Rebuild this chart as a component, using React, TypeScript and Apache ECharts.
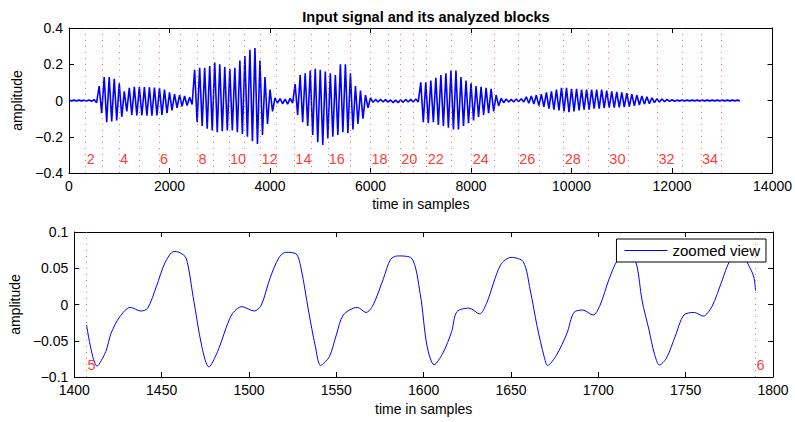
import React, { useEffect, useRef } from "react";
import * as echarts from "echarts";

const titleText = "Input signal and its analyzed blocks";
const xAxisTitle = "time in samples";
const yAxisTitle = "amplitude";
const zoomLegend = "zoomed view";

// Overview signal: upper / lower envelope read every 100 samples
const envelopeStep = 100;
const upperEnvelope = [
  0.002, 0.002, 0.002, 0.002, 0.003, 0.005, 0.08, 0.13, 0.13, 0.12,
  0.095, 0.05, 0.07, 0.075, 0.075, 0.074, 0.073, 0.072, 0.07, 0.06,
  0.045, 0.035, 0.03, 0.025, 0.018, 0.17, 0.18, 0.18, 0.19, 0.21,
  0.2, 0.185, 0.175, 0.18, 0.22, 0.245, 0.28, 0.29, 0.22, 0.13,
  0.06, 0.015, 0.01, 0.008, 0.012, 0.09, 0.14, 0.15, 0.165, 0.175,
  0.17, 0.16, 0.15, 0.14, 0.2, 0.2, 0.15, 0.08, 0.055, 0.03,
  0.015, 0.006, 0.006, 0.005, 0.003, 0.002, 0.004, 0.006, 0.006, 0.008,
  0.1, 0.1, 0.11, 0.125, 0.14, 0.15, 0.165, 0.165, 0.13, 0.11,
  0.095, 0.08, 0.075, 0.07, 0.065, 0.03, 0.012, 0.008, 0.006, 0.008,
  0.01, 0.02, 0.025, 0.03, 0.035, 0.045, 0.05, 0.06, 0.07, 0.07,
  0.065, 0.065, 0.06, 0.06, 0.06, 0.06, 0.06, 0.055, 0.05, 0.048,
  0.045, 0.04, 0.035, 0.03, 0.025, 0.02, 0.015, 0.01, 0.008, 0.006,
  0.004, 0.002, 0.002, 0.002, 0.002, 0.002, 0.002, 0.002, 0.002, 0.002,
  0.002, 0.002, 0.002, 0.002,
];
const lowerEnvelope = [
  -0.002, -0.002, -0.002, -0.003, -0.004, -0.012, -0.07, -0.12, -0.115, -0.11,
  -0.09, -0.06, -0.08, -0.083, -0.083, -0.084, -0.084, -0.083, -0.08, -0.07,
  -0.055, -0.04, -0.032, -0.028, -0.022, -0.12, -0.14, -0.155, -0.165, -0.175,
  -0.17, -0.165, -0.165, -0.175, -0.185, -0.2, -0.225, -0.24, -0.19, -0.13,
  -0.06, -0.015, -0.018, -0.02, -0.015, -0.08, -0.12, -0.14, -0.19, -0.23,
  -0.245, -0.21, -0.2, -0.19, -0.175, -0.18, -0.16, -0.13, -0.1, -0.04,
  -0.01, -0.008, -0.008, -0.009, -0.012, -0.012, -0.01, -0.008, -0.008, -0.008,
  -0.12, -0.125, -0.12, -0.135, -0.14, -0.15, -0.16, -0.16, -0.14, -0.125,
  -0.11, -0.09, -0.08, -0.07, -0.06, -0.03, -0.012, -0.008, -0.008, -0.006,
  -0.008, -0.015, -0.02, -0.028, -0.035, -0.045, -0.05, -0.055, -0.06, -0.065,
  -0.06, -0.055, -0.05, -0.05, -0.045, -0.045, -0.042, -0.04, -0.04, -0.038,
  -0.036, -0.033, -0.03, -0.025, -0.02, -0.018, -0.012, -0.008, -0.006, -0.005,
  -0.004, -0.002, -0.002, -0.002, -0.002, -0.002, -0.002, -0.002, -0.002, -0.002,
  -0.002, -0.002, -0.002, -0.002,
];

// start sample of each analysed block (block 1 .. 35)
const blockStarts = [
  0, 332, 660, 995, 1407, 1790, 2209, 2558, 2870, 3184,
  3490, 3810, 4133, 4484, 4820, 5150, 5590, 6000, 6355, 6590,
  6860, 7118, 7600, 8013, 8460, 8941, 9360, 9845, 10335, 10733,
  11135, 11710, 12210, 12575, 12989,
];

// zoomed view samples
const zoomSamples = [
  1407, 1413, 1418, 1421, 1426, 1432, 1438, 1442, 1447, 1452,
  1457, 1460, 1464, 1468, 1473, 1477, 1482, 1490, 1496, 1503,
  1507, 1512, 1517, 1521, 1527, 1530, 1534, 1538, 1541, 1546,
  1550, 1554, 1562, 1567, 1571, 1577, 1581, 1585, 1593, 1598,
  1602, 1606, 1611, 1616, 1619, 1626, 1632, 1636, 1644, 1650,
  1657, 1661, 1665, 1669, 1671, 1676, 1682, 1686, 1691, 1697,
  1701, 1706, 1711, 1716, 1719, 1722, 1725, 1729, 1732, 1735,
  1739, 1744, 1749, 1755, 1760, 1765, 1771, 1775, 1779, 1783,
  1786, 1789, 1790,
];
const zoomAmplitudes = [
  -0.028, -0.085, -0.065, -0.04, -0.017, -0.004, -0.009, -0.005, 0.025, 0.058,
  0.073, 0.072, 0.064, 0.011, -0.058, -0.086, -0.065, -0.0145, -0.003, -0.009,
  -0.001, 0.036, 0.064, 0.072, 0.0697, 0.0476, -0.0076, -0.058, -0.084, -0.072,
  -0.042, -0.0145, -0.004, -0.011, -0.001, 0.036, 0.062, 0.067, 0.064, 0.015,
  -0.058, -0.083, -0.067, -0.0375, -0.01, -0.005, -0.013, 0.0016, 0.0545, 0.065,
  0.059, 0.02, -0.0306, -0.072, -0.084, -0.07, -0.04, -0.011, -0.0076, -0.0145,
  -0.001, 0.034, 0.061, 0.069, 0.066, 0.0545, 0.006, -0.035, -0.067, -0.0835,
  -0.074, -0.044, -0.0145, -0.011, -0.016, -0.003, 0.034, 0.059, 0.068, 0.066,
  0.0545, 0.038, 0.019,
];

const overviewXTicks = [0, 2000, 4000, 6000, 8000, 10000, 12000, 14000];
const overviewYTicks = [-0.4, -0.2, 0, 0.2, 0.4];
const zoomXTicks = [1400, 1450, 1500, 1550, 1600, 1650, 1700, 1750, 1800];
const zoomYTicks = [-0.1, -0.05, 0, 0.05, 0.1];

const FONT = "Liberation Sans, Arial, Helvetica, sans-serif";

function fmtY(v: number): string {
  if (Math.abs(v) < 1e-9) return "0";
  const s = String(Number(Math.abs(v).toFixed(3)));
  return (v < 0 ? "\u2212" : "") + s;
}

function axisPair(ticks: number[], gridIndex: number, isX: boolean, name: string, nameGap: number) {
  const min = ticks[0];
  const max = ticks[ticks.length - 1];
  const interval = ticks[1] - ticks[0];
  const common = {
    type: "value",
    gridIndex,
    min,
    max,
    interval,
    splitLine: { show: false },
    axisLine: { show: true, onZero: false, lineStyle: { color: "#000", width: 1 } },
    axisTick: { show: true, inside: true, length: 5, lineStyle: { color: "#000" } },
  };
  const main: any = {
    ...common,
    position: isX ? "bottom" : "left",
    axisLabel: {
      show: true,
      color: "#000",
      fontSize: 14,
      fontFamily: FONT,
      margin: 6,
      formatter: isX ? (v: number) => String(v) : fmtY,
    },
    name,
    nameLocation: "middle",
    nameGap,
    nameTextStyle: { color: "#000", fontSize: 14, fontFamily: FONT, verticalAlign: "middle" },
  };
  const other: any = {
    ...common,
    position: isX ? "top" : "right",
    axisLabel: { show: false },
  };
  return [main, other];
}

export default function App() {
  const ref = useRef<HTMLDivElement>(null);

  useEffect(() => {
    if (!ref.current) return;
    const chart = echarts.init(ref.current, undefined, { renderer: "svg" });

    const overviewData: number[][] = [];
    for (let i = 0; i < upperEnvelope.length; i++) {
      overviewData.push([i * envelopeStep, upperEnvelope[i]]);
      overviewData.push([i * envelopeStep + envelopeStep / 2, lowerEnvelope[i]]);
    }
    const zoomData = zoomSamples.map((s, i) => [s, zoomAmplitudes[i]]);

    const topMin = overviewXTicks[0];
    const topMax = overviewXTicks[overviewXTicks.length - 1];
    const zMin = zoomXTicks[0];
    const zMax = zoomXTicks[zoomXTicks.length - 1];

    const topBlocks = blockStarts
      .map((s, i) => ({ s, n: i + 1 }))
      .filter((b) => b.s > topMin && b.s < topMax);
    const topLabels = topBlocks.filter((b) => b.n % 2 === 0);
    const zoomBlocks = blockStarts
      .map((s, i) => ({ s, n: i + 1 }))
      .filter((b) => b.s >= zMin && b.s <= zMax);

    const markLineStyle = {
      symbol: ["none", "none"],
      silent: true,
      label: { show: false },
      lineStyle: { color: "rgba(255,40,40,0.7)", type: [1, 5], width: 1 },
      emphasis: { disabled: true },
    };
    const labelSeries = (xi: number, yi: number, pts: number[][]) => ({
      type: "scatter",
      xAxisIndex: xi,
      yAxisIndex: yi,
      symbolSize: 0,
      silent: true,
      data: pts,
      label: {
        show: true,
        position: "right",
        distance: 1,
        color: "#ff0000",
        fontSize: 14.5,
        fontFamily: FONT,
        formatter: (p: any) => String(p.value[2]),
      },
      z: 5,
    });

    const [tx0, tx1] = axisPair(overviewXTicks, 0, true, xAxisTitle, 31);
    const [ty0, ty1] = axisPair(overviewYTicks, 0, false, yAxisTitle, 47);
    const [bx0, bx1] = axisPair(zoomXTicks, 1, true, xAxisTitle, 32);
    const [by0, by1] = axisPair(zoomYTicks, 1, false, yAxisTitle, 47);

    chart.setOption({
      animation: false,
      backgroundColor: "#fff",
      textStyle: { fontFamily: FONT },
      title: {
        text: titleText,
        left: 421,
        top: 4,
        textAlign: "center",
        textStyle: { fontSize: 14.5, fontWeight: "bold", color: "#000", fontFamily: FONT },
      },
      legend: {
        data: [zoomLegend],
        right: 29,
        top: 239,
        icon: "rect",
        itemWidth: 43,
        itemHeight: 1,
        padding: [4, 6, 4, 8],
        borderColor: "#000",
        borderWidth: 1,
        borderRadius: 0,
        backgroundColor: "#fff",
        textStyle: { fontSize: 15, color: "#000", fontFamily: FONT },
        selectedMode: false,
      },
      grid: [
        { left: 69, top: 28, width: 704, height: 145 },
        { left: 69, top: 232, width: 704, height: 145 },
      ],
      xAxis: [tx0, tx1, bx0, bx1],
      yAxis: [ty0, ty1, by0, by1],
      series: [
        {
          name: "input signal",
          type: "line",
          xAxisIndex: 0,
          yAxisIndex: 0,
          data: overviewData,
          showSymbol: false,
          color: "#0000ff",
          lineStyle: { color: "#0000ff", width: 1.6 },
          silent: true,
          markLine: { ...markLineStyle, data: topBlocks.map((b) => ({ xAxis: b.s })) },
        },
        labelSeries(0, 0, topLabels.map((b) => [b.s, -0.325, b.n])),
        {
          name: zoomLegend,
          type: "line",
          xAxisIndex: 2,
          yAxisIndex: 2,
          data: zoomData,
          smooth: 0.3,
          showSymbol: false,
          color: "#0000ff",
          lineStyle: { color: "#0000ff", width: 1 },
          silent: true,
          markLine: { ...markLineStyle, data: zoomBlocks.map((b) => ({ xAxis: b.s })) },
        },
        labelSeries(2, 2, zoomBlocks.map((b) => [b.s, -0.083, b.n])),
      ],
    });

    return () => chart.dispose();
  }, []);

  return (
    <div
      ref={ref}
      style={{ position: "fixed", left: 0, top: 0, width: 795, height: 422, background: "#fff" }}
    />
  );
}
